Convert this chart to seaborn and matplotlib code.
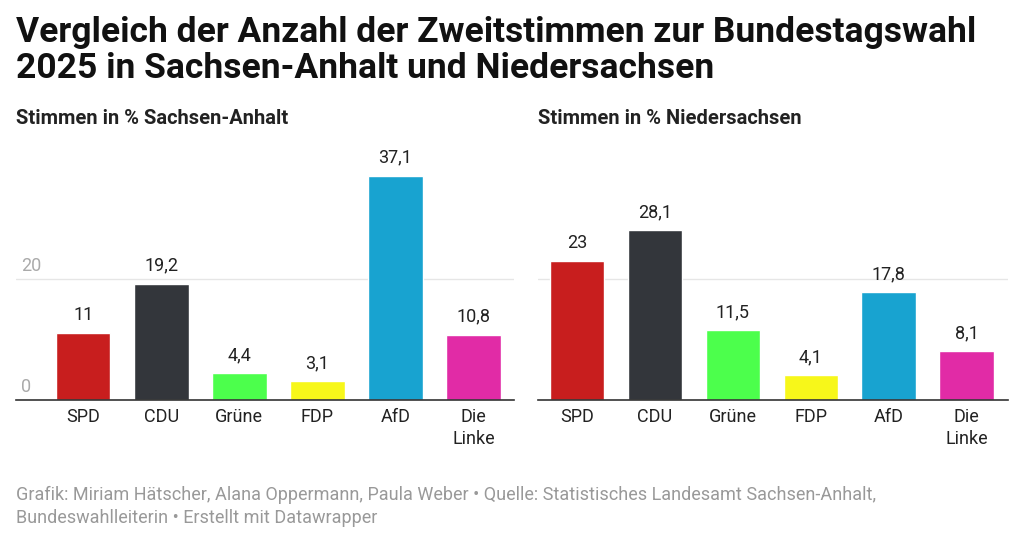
import matplotlib
matplotlib.use("Agg")
import matplotlib.pyplot as plt
import seaborn as sns
import pandas as pd

parties = ["SPD", "CDU", "Grüne", "FDP", "AfD", "Die\nLinke"]
sachsen_anhalt = [11, 19.2, 4.4, 3.1, 37.1, 10.8]
niedersachsen = [23, 28.1, 11.5, 4.1, 17.8, 8.1]
colors = ["#c81e1e", "#33363b", "#4cff4c", "#f7f71a", "#18a3d0", "#e12ba6"]

sns.set_theme(style="white")
plt.rcParams['font.family'] = ['Roboto', 'DejaVu Sans']

fig = plt.figure(figsize=(10.24, 5.46), dpi=100)
W, H = 1024, 546
def ax_at(x0, x1, y0, y1):
    return fig.add_axes([x0 / W, 1 - y1 / H, (x1 - x0) / W, (y1 - y0) / H])

axL = ax_at(16, 514, 140, 400)
axR = ax_at(538, 1008, 140, 400)

def fmt(v):
    s = f"{v:g}"
    return s.replace(".", ",")

for ax, vals, xlim, sub in [(axL, sachsen_anhalt, (-0.86, 5.52), "Stimmen in % Sachsen-Anhalt"),
                            (axR, niedersachsen, (-0.5, 5.53), "Stimmen in % Niedersachsen")]:
    df = pd.DataFrame({"p": parties, "v": vals})
    sns.barplot(data=df, x="p", y="v", hue="p", palette=colors, legend=False,
                width=0.7, ax=ax, saturation=1)
    ax.set_xlim(*xlim)
    ax.set_ylim(0, 43)
    ax.axhline(20, color="#e6e6e6", lw=1, zorder=0)
    for i, v in enumerate(vals):
        ax.text(i, v + 1.5, fmt(v), ha="center", va="bottom", fontsize=13, color="#222222")
    for s in ["top", "right", "left"]:
        ax.spines[s].set_visible(False)
    ax.spines["bottom"].set_color("#333333")
    ax.spines["bottom"].set_linewidth(1.2)
    ax.set_yticks([])
    ax.set_xlabel("")
    ax.set_ylabel("")
    ax.tick_params(axis="x", length=0, pad=6, labelsize=13, labelcolor="#222222")
    ax.set_xticks(range(6))
    ax.set_xticklabels(parties, linespacing=1.25, va="top")
    ax.text(0, 1.0 + 12 / 260, sub, transform=ax.transAxes, ha="left", va="bottom",
            fontsize=14.5, fontweight="bold", color="#222222")
    ax.set_facecolor("none")

axL.text(-0.8, 20.6, "20", fontsize=13, color="#aaaaaa", ha="left", va="bottom")
axL.text(-0.8, 0.6, "0", fontsize=13, color="#aaaaaa", ha="left", va="bottom")

fig.text(16 / W, 1 - 16 / H, "Vergleich der Anzahl der Zweitstimmen zur Bundestagswahl\n2025 in Sachsen-Anhalt und Niedersachsen",
         ha="left", va="top", fontsize=25.5, fontweight="bold", color="#111111", linespacing=1.1)
fig.text(16 / W, 1 - 486 / H, "Grafik: Miriam Hätscher, Alana Oppermann, Paula Weber • Quelle: Statistisches Landesamt Sachsen-Anhalt,\nBundeswahlleiterin • Erstellt mit Datawrapper",
         ha="left", va="top", fontsize=13, color="#999999", linespacing=1.35)

fig.savefig("out.png", dpi=100)
